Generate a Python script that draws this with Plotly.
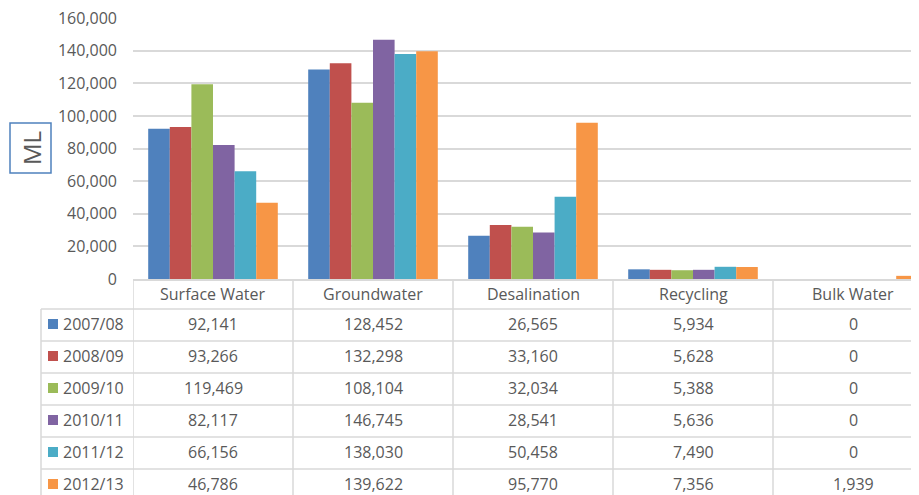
import plotly.graph_objects as go

categories = ["Surface Water", "Groundwater", "Desalination", "Recycling", "Bulk Water"]
years = ["2007/08", "2008/09", "2009/10", "2010/11", "2011/12", "2012/13"]
v_2007_08 = [92141, 128452, 26565, 5934, 0]
v_2008_09 = [93266, 132298, 33160, 5628, 0]
v_2009_10 = [119469, 108104, 32034, 5388, 0]
v_2010_11 = [82117, 146745, 28541, 5636, 0]
v_2011_12 = [66156, 138030, 50458, 7490, 0]
v_2012_13 = [46786, 139622, 95770, 7356, 1939]
series = [v_2007_08, v_2008_09, v_2009_10, v_2010_11, v_2011_12, v_2012_13]
colors = ["#4F81BD", "#C0504D", "#9BBB59", "#8064A2", "#4BACC6", "#F79646"]

# the page body adds an 8px margin, so work in screen pixels and shift back
OFF = 8
W, H = 919 - OFF, 495 - OFF
L, T, B = 133 - OFF, 18 - OFF, 279 - OFF   # plot area in figure pixels
COL_W = 160                                 # one category column in pixels
TXT = "#595959"
GRID = "#D9D9D9"
FONT = "Open Sans"
FS = 16

x_pos = list(range(len(categories)))
x_max = -0.5 + (W - L) / COL_W


def px_x(p):
    # p is a screen pixel position
    return (p - OFF - L) / (W - L)


def px_y(p):
    return (B - (p - OFF)) / (B - T)


fig = go.Figure()
for name, vals, c in zip(years, series, colors):
    fig.add_trace(go.Bar(x=x_pos, y=vals, name=name, marker=dict(color=c, line_width=0)))

shapes = []
annotations = []

# table geometry (screen pixels)
header_mid = 294
row_top = 309
row_h = 32
n_rows = len(years)

for i in range(n_rows):
    y = px_y(row_top + i * row_h)
    shapes.append(dict(type="line", xref="paper", yref="paper", x0=px_x(41), x1=1,
                       y0=y, y1=y, line=dict(color=GRID, width=1.5)))
for k in range(len(categories)):
    shapes.append(dict(type="line", xref="x", yref="paper", x0=k - 0.5, x1=k - 0.5,
                       y0=0, y1=px_y(H + OFF + 5), line=dict(color=GRID, width=1.5)))
shapes.append(dict(type="line", xref="paper", yref="paper", x0=px_x(41), x1=px_x(41),
                   y0=px_y(row_top), y1=px_y(H + OFF + 5), line=dict(color=GRID, width=1.5)))

for k, cat in enumerate(categories):
    annotations.append(dict(x=k, y=px_y(header_mid), xref="x", yref="paper", text=cat,
                            xanchor="center", yanchor="middle", showarrow=False,
                            font=dict(size=FS, color=TXT, family=FONT)))

for i, (name, vals, c) in enumerate(zip(years, series, colors)):
    yc = row_top + i * row_h + row_h / 2 - 1
    shapes.append(dict(type="rect", xref="paper", yref="paper", x0=px_x(48), x1=px_x(58),
                       y0=px_y(yc + 5), y1=px_y(yc - 5), fillcolor=c, line_width=0))
    annotations.append(dict(x=px_x(61), y=px_y(yc), xref="paper", yref="paper", text=name,
                            xanchor="left", yanchor="middle", showarrow=False,
                            font=dict(size=FS, color=TXT, family=FONT)))
    for k, v in enumerate(vals):
        annotations.append(dict(x=k, y=px_y(yc), xref="x", yref="paper", text=f"{v:,}",
                                xanchor="center", yanchor="middle", showarrow=False,
                                font=dict(size=FS, color=TXT, family=FONT)))

# "ML" boxed axis title
shapes.append(dict(type="rect", xref="paper", yref="paper", x0=px_x(10), x1=px_x(51),
                   y0=px_y(173), y1=px_y(123), line=dict(color="#4F81BD", width=1.5),
                   fillcolor="white"))
annotations.append(dict(x=px_x(31), y=px_y(148), xref="paper", yref="paper", text="ML",
                        textangle=-90, xanchor="center", yanchor="middle", showarrow=False,
                        font=dict(size=24, color=TXT, family=FONT)))

fig.update_layout(
    width=W, height=H,
    margin=dict(l=L, r=0, t=T, b=H - B, pad=0),
    plot_bgcolor="white", paper_bgcolor="white",
    barmode="group", bargap=0.19, bargroupgap=0,
    showlegend=False,
    shapes=shapes, annotations=annotations,
    font=dict(family=FONT, color=TXT),
)
fig.update_xaxes(range=[-0.5, x_max], showticklabels=False, showgrid=False,
                 showline=True, linecolor=GRID, linewidth=1.5, zeroline=False)
fig.update_yaxes(range=[0, 160080], tickvals=list(range(0, 160001, 20000)),
                 tickformat=",", showgrid=True, ticklabeloverflow="allow",
                 gridcolor=GRID, gridwidth=1.5, zeroline=False, showline=False,
                 ticklabelstandoff=15, tickfont=dict(size=FS, color=TXT, family=FONT))

fig.write_html("out.html")
